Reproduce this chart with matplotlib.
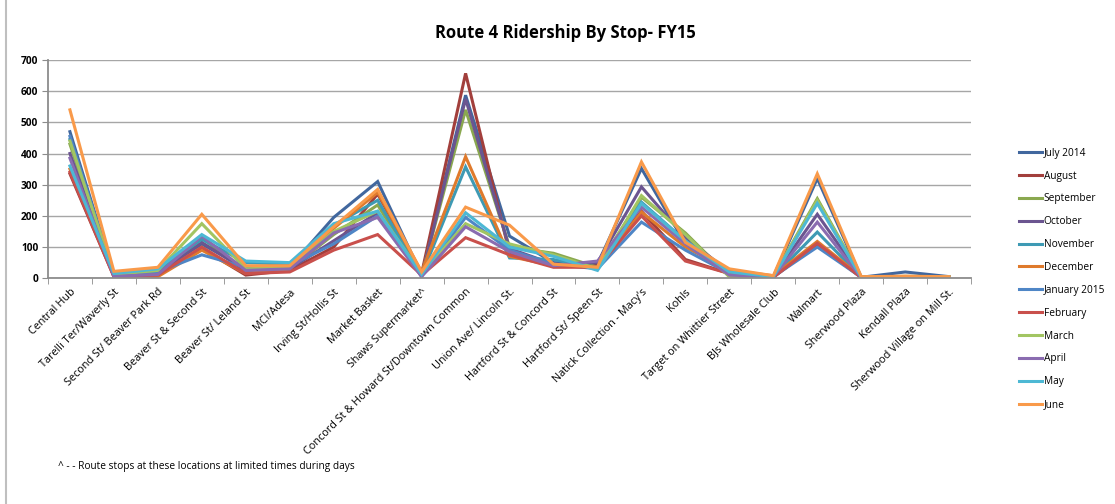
import numpy as np
import matplotlib.pyplot as plt
from matplotlib.lines import Line2D


# DATA

stops = ["Central Hub", "Tarelli Ter/Waverly St", "Second St/ Beaver Park Rd",
         "Beaver St & Second St", "Beaver St/ Leland St", "MCI/Adesa",
         "Irving St/Hollis St", "Market Basket", "Shaws Supermarket^",
         "Concord St & Howard St/Downtown Common", "Union Ave/ Lincoln St.",
         "Hartford St & Concord St", "Hartford St/ Speen St",
         "Natick Collection - Macy's", "Kohls", "Target on Whittier Street",
         "BJs Wholesale Club", "Walmart", "Sherwood Plaza", "Kendall Plaza",
         "Sherwood Village on Mill St."]

months = ["July 2014", "August", "September", "October", "November", "December",
          "January 2015", "February", "March", "April", "May", "June"]

jul = [470, 10, 20, 110, 30, 35, 195, 310, 10, 587, 135, 50, 45, 352, 110, 20, 5, 320, 3, 20, 5]
aug = [335, 5, 10, 95, 10, 25, 100, 270, 15, 657, 80, 40, 40, 215, 60, 15, 3, 110, 2, 5, 4]
sep = [430, 8, 15, 130, 20, 30, 140, 235, 10, 540, 100, 80, 35, 260, 145, 5, 5, 255, 3, 6, 5]
oct_ = [400, 6, 15, 115, 25, 30, 120, 210, 5, 575, 95, 45, 50, 293, 130, 20, 5, 205, 4, 5, 5]
nov = [445, 12, 25, 125, 50, 45, 170, 250, 10, 357, 65, 60, 30, 244, 120, 15, 5, 148, 3, 5, 5]
dec = [350, 10, 5, 90, 15, 30, 160, 275, 20, 390, 70, 40, 35, 212, 100, 25, 8, 118, 5, 6, 5]
jan = [455, 8, 20, 75, 35, 40, 110, 200, 8, 195, 90, 45, 30, 180, 90, 15, 5, 100, 3, 5, 4]
feb = [340, 5, 10, 100, 15, 20, 90, 140, 10, 130, 75, 35, 35, 200, 55, 15, 3, 112, 2, 4, 4]
mar = [440, 12, 25, 175, 30, 35, 150, 215, 15, 175, 110, 75, 30, 265, 140, 5, 5, 250, 3, 5, 5]
apr = [385, 6, 12, 135, 25, 30, 145, 195, 5, 165, 85, 40, 55, 228, 110, 10, 5, 180, 2, 4, 3]
may = [360, 15, 30, 140, 55, 50, 175, 215, 12, 210, 100, 70, 25, 240, 120, 20, 5, 240, 3, 5, 5]
jun = [540, 22, 35, 205, 40, 40, 165, 285, 20, 228, 170, 45, 35, 373, 115, 30, 8, 335, 5, 6, 5]

series = [jul, aug, sep, oct_, nov, dec, jan, feb, mar, apr, may, jun]

colors = ["#41679e", "#a23f3c", "#8aa84f", "#6b5590", "#3e9ab4", "#df7a2c",
          "#4f86c6", "#c9504c", "#a2c562", "#8a6cb0", "#4db8d4", "#f99a4a"]


# PLOT

fig = plt.figure(figsize=(11.15, 5.04), dpi=100)
ax = fig.add_axes([0.043, 0.448, 0.828, 0.433])

x = np.arange(len(stops))
for vals, name, c in zip(series, months, colors):
    ax.plot(x, vals, color=c, linewidth=2.2, label=name, solid_joinstyle="miter")

ax.set_xlim(-0.5, len(stops) - 0.5)
ax.set_ylim(0, 700)
ax.set_yticks(range(0, 701, 100))
ax.yaxis.grid(True, color="#a6a6a6", linewidth=1)
ax.set_axisbelow(True)

for side in ["top", "right"]:
    ax.spines[side].set_visible(False)
ax.spines["left"].set_color("#8c8c8c")
ax.spines["bottom"].set_color("#8c8c8c")
ax.spines["left"].set_linewidth(1.3)
ax.spines["bottom"].set_linewidth(1.3)

ax.set_xticks(x)
ax.set_xticklabels(stops, rotation=45, ha="right", rotation_mode="anchor",
                   fontsize=7.8, family="Open Sans")
ax.set_xticks(np.arange(-0.5, len(stops), 1), minor=True)
ax.tick_params(axis="x", which="major", length=0, pad=6)
ax.tick_params(axis="x", which="minor", length=4, color="#8c8c8c")
ax.tick_params(axis="y", length=4, color="#8c8c8c", labelsize=7.3, pad=3)
for lab in ax.get_yticklabels():
    lab.set_fontweight("bold")
    lab.set_family("Open Sans")

fig.text(0.507, 0.935, "Route 4 Ridership By Stop- FY15", ha="center", va="center",
         fontsize=12, fontweight="bold", family="Open Sans")

leg = fig.legend(loc="upper left", bbox_to_anchor=(0.910, 0.715), frameon=False,
                 prop={"family": "Open Sans", "size": 7.3}, handlelength=2.3,
                 handletextpad=0.15, labelspacing=1.17, borderaxespad=0)

fig.text(0.052, 0.070, "^ - - Route stops at these locations at limited times during days",
         fontsize=7.3, family="Open Sans")

# chart border on the left edge
fig.add_artist(Line2D([0.005, 0.005], [0, 1], transform=fig.transFigure,
                      color="#bfbfbf", linewidth=1.5))

plt.savefig("out.png", dpi=100)
